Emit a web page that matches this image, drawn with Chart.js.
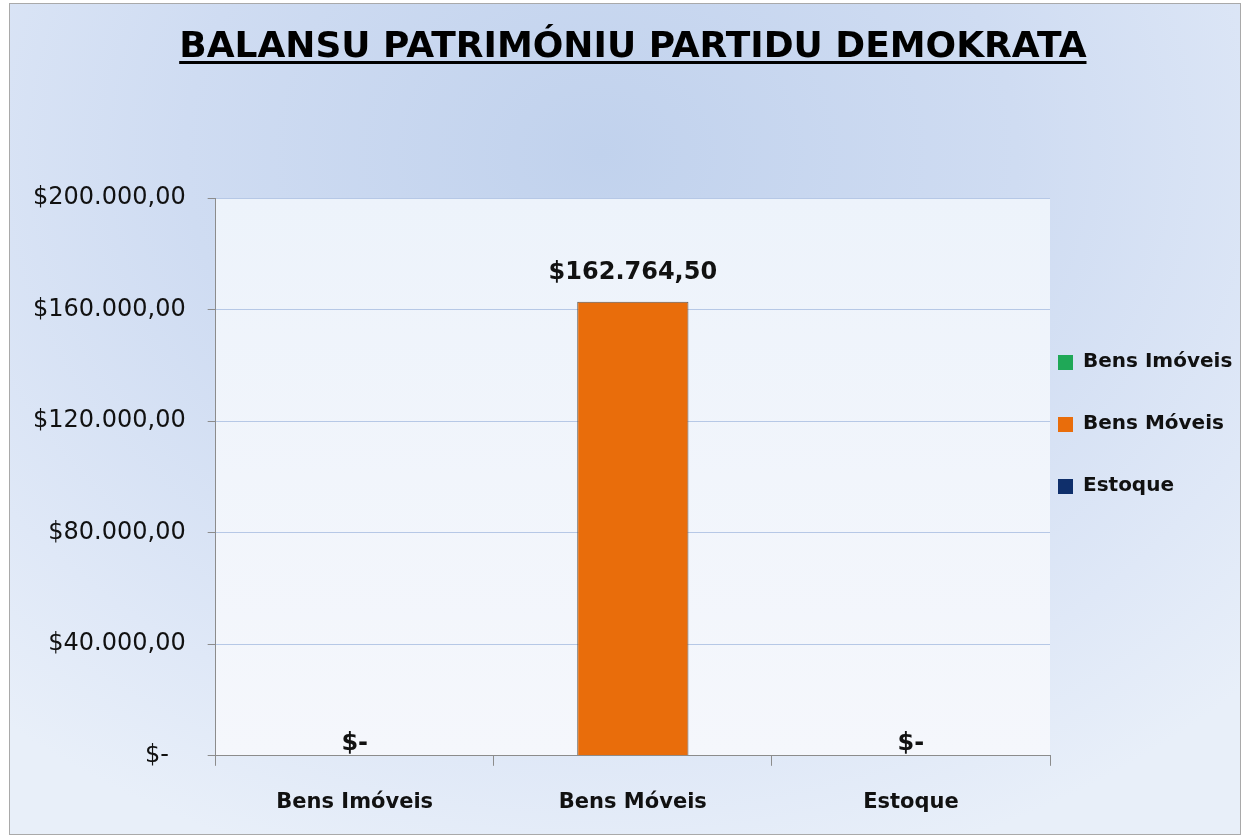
<!DOCTYPE html>
<html>
<head>
<meta charset="utf-8">
<script src="https://cdn.jsdelivr.net/npm/chart.js@4.4.1/dist/chart.umd.min.js"></script>
<style>
  html, body { margin: 0; padding: 0; background: #fff; }
  #wrap { position: relative; width: 1242px; height: 836px; }
  #frame {
    position: absolute; left: 9px; top: 3px; width: 1230px; height: 830px;
    border: 1px solid #a9a9a9;
    background: radial-gradient(ellipse 75% 90% at 48% 18%, #c1d2ed 0%, #cfdcf2 45%, #dfe8f7 80%, #e8eff9 100%);
  }
  canvas { position: absolute; left: 0; top: 0; }
</style>
</head>
<body>
<div id="wrap">
  <div id="frame"></div>
  <canvas id="chart" width="1242" height="836"></canvas>
</div>
<script>
const chartTitle = 'BALANSU PATRIMÓNIU PARTIDU DEMOKRATA';
const categories = ['Bens Imóveis', 'Bens Móveis', 'Estoque'];
const values = [0, 162764.5, 0];
const yTicks = [0, 40000, 80000, 120000, 160000, 200000];
const barColors = ['#1fa857', '#e96d0b', '#0f2f6b'];

const FONT = 'DejaVu Sans';

function money(v) {
  if (!v) return '$-';
  const parts = v.toFixed(2).split('.');
  return '$' + parts[0].replace(/\B(?=(\d{3})+(?!\d))/g, '.') + ',' + parts[1];
}

// light plot area behind the grid
const plotBg = {
  id: 'plotBg',
  beforeDraw(chart) {
    const { ctx, chartArea: a } = chart;
    const g = ctx.createLinearGradient(0, a.top, 0, a.bottom);
    g.addColorStop(0, '#edf3fb');
    g.addColorStop(1, '#f5f7fc');
    ctx.save();
    ctx.fillStyle = g;
    ctx.fillRect(a.left, a.top, a.right - a.left, a.bottom - a.top);
    ctx.restore();
  }
};

// title centred over the plot, underlined
const titlePlugin = {
  id: 'titlePlugin',
  afterDraw(chart) {
    const { ctx, chartArea: a } = chart;
    const cx = (a.left + a.right) / 2;
    ctx.save();
    ctx.font = 'bold 36px ' + FONT;
    ctx.fillStyle = '#000';
    ctx.textAlign = 'center';
    ctx.textBaseline = 'alphabetic';
    ctx.fillText(chartTitle, cx, 57);
    const w = ctx.measureText(chartTitle).width;
    ctx.fillRect(cx - w / 2, 61, w, 3);
    ctx.restore();
  }
};

// legend on the right, one entry per category
const sideLegend = {
  id: 'sideLegend',
  afterDraw(chart) {
    const { ctx, chartArea: a } = chart;
    const x = a.right + 8;
    const y0 = 362, step = 62;
    ctx.save();
    ctx.font = 'bold 20px ' + FONT;
    ctx.textBaseline = 'middle';
    ctx.textAlign = 'left';
    categories.forEach((c, i) => {
      const y = y0 + i * step;
      ctx.fillStyle = barColors[i];
      ctx.fillRect(x, y - 7, 15, 15);
      ctx.fillStyle = '#111';
      ctx.fillText(c, x + 25, y);
    });
    ctx.restore();
  }
};

// value labels over the bars
const barLabels = {
  id: 'barLabels',
  afterDatasetsDraw(chart) {
    const { ctx } = chart;
    const meta = chart.getDatasetMeta(0);
    ctx.save();
    ctx.font = 'bold 24px ' + FONT;
    ctx.fillStyle = '#111';
    ctx.textAlign = 'center';
    ctx.textBaseline = 'middle';
    meta.data.forEach((bar, i) => {
      const v = values[i];
      ctx.fillText(money(v), bar.x, bar.y - (v ? 29 : 12));
    });
    ctx.restore();
  }
};

new Chart(document.getElementById('chart'), {
  type: 'bar',
  data: {
    labels: categories,
    datasets: [{
      data: values,
      backgroundColor: barColors,
      borderColor: '#5f5750',
      borderWidth: 1,
      categoryPercentage: 0.8,
      barPercentage: 0.5
    }]
  },
  options: {
    responsive: false,
    animation: false,
    layout: { padding: { left: 11, right: 192, top: 198, bottom: -3 } },
    plugins: {
      legend: { display: false },
      title: { display: false },
      tooltip: { enabled: false }
    },
    scales: {
      x: {
        grid: {
          drawOnChartArea: false,
          tickLength: 10,
          tickColor: '#8c8c8c'
        },
        border: { color: '#8c8c8c', width: 1 },
        ticks: {
          color: '#111',
          padding: 24,
          font: { family: FONT, size: 21, weight: 'bold' }
        }
      },
      y: {
        min: 0,
        max: 200000,
        afterBuildTicks: s => { s.ticks = yTicks.map(v => ({ value: v })); },
        grid: {
          color: '#b6c8e6',
          tickLength: 8,
          tickColor: '#8c8c8c'
        },
        border: { color: '#8c8c8c', width: 1 },
        ticks: {
          color: '#111',
          padding: 22,
          font: { family: FONT, size: 24 },
          callback: v => v === 0 ? '$-\u2002\u2009' : money(v)
        }
      }
    }
  },
  plugins: [plotBg, titlePlugin, sideLegend, barLabels]
});
</script>
</body>
</html>
